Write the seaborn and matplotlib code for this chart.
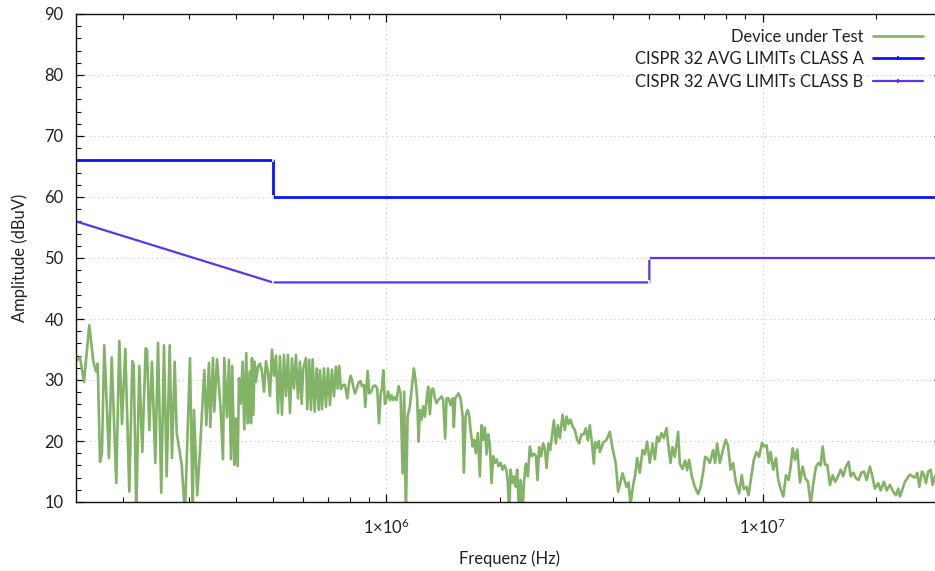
import numpy as np
import pandas as pd
import matplotlib
matplotlib.use("Agg")
import matplotlib.pyplot as plt
import seaborn as sns
from matplotlib.lines import Line2D
from matplotlib.ticker import FixedLocator, FixedFormatter, MultipleLocator, LogLocator, NullFormatter

# ---- data (frequency in kHz, amplitude in dBuV) ----
freq_khz = [
    150.0, 153.7, 157.5, 162.7, 166.7, 169.5, 171.3, 173.7, 175.8, 178.3,
    183.5, 186.6, 191.9, 195.5, 198.7, 202.8, 207.8, 211.7, 213.5, 216.9,
    220.9, 225.0, 229.7, 231.6, 234.8, 238.7, 243.6, 247.7, 252.7, 256.9,
    261.2, 266.0, 269.8, 274.3, 277.7, 286.3, 292.1, 301.2, 306.2, 308.6,
    314.9, 320.2, 328.7, 332.8, 338.3, 341.0, 346.7, 349.4, 355.3, 363.4,
    368.5, 371.5, 377.7, 382.3, 387.0, 390.1, 394.9, 398.3, 403.2, 406.4,
    410.7, 415.7, 419.8, 425.0, 428.6, 433.9, 437.4, 440.0, 443.6, 447.4,
    450.9, 456.5, 462.1, 467.8, 473.6, 479.4, 485.3, 491.2, 497.3, 503.4,
    509.6, 515.9, 522.2, 528.6, 535.2, 541.7, 548.4, 555.2, 562.0, 568.9,
    575.9, 583.0, 590.2, 596.3, 602.2, 612.2, 617.1, 624.7, 631.2, 637.8,
    645.7, 653.6, 661.7, 666.9, 675.2, 683.5, 691.9, 700.4, 709.0, 717.7,
    726.6, 735.5, 743.2, 750.5, 758.3, 769.1, 777.1, 788.1, 797.8, 804.7,
    811.1, 817.6, 826.1, 834.7, 845.0, 855.4, 862.2, 872.9, 879.8, 892.8,
    901.6, 912.7, 923.9, 935.3, 946.8, 956.7, 966.7, 974.4, 982.2, 992.5,
    1002.4, 1012.3, 1022.9, 1033.6, 1043.8, 1054.7, 1065.6, 1078.8, 1092.1, 1105.5,
    1116.4, 1128.0, 1139.8, 1156.0, 1170.2, 1184.6, 1197.0, 1208.7, 1219.1, 1228.8,
    1241.6, 1253.9, 1267.0, 1280.2, 1292.8, 1306.3, 1320.0, 1333.0, 1346.9, 1360.9,
    1374.3, 1388.7, 1403.2, 1417.0, 1434.4, 1446.7, 1464.5, 1482.6, 1500.8, 1512.8,
    1524.9, 1543.6, 1556.9, 1576.1, 1595.4, 1608.2, 1625.0, 1644.9, 1661.1, 1675.4,
    1696.0, 1712.7, 1730.5, 1751.8, 1773.4, 1791.9, 1809.5, 1828.5, 1847.5, 1865.7,
    1885.2, 1904.9, 1923.6, 1943.7, 1964.0, 1988.2, 2012.6, 2037.4, 2062.5, 2087.9,
    2104.6, 2121.4, 2139.6, 2165.6, 2187.3, 2210.0, 2227.7, 2255.2, 2274.6, 2302.5,
    2320.9, 2349.4, 2378.3, 2407.6, 2437.2, 2467.2, 2497.6, 2523.6, 2548.4, 2579.9,
    2611.6, 2638.9, 2666.4, 2699.2, 2725.8, 2759.3, 2788.2, 2822.4, 2857.1, 2892.3,
    2940.5, 2982.2, 3013.3, 3050.4, 3088.0, 3125.9, 3170.2, 3215.0, 3254.8, 3302.7,
    3349.5, 3390.7, 3432.4, 3474.6, 3517.4, 3560.8, 3589.0, 3626.5, 3671.2, 3693.7,
    3769.0, 3848.1, 3926.6, 3991.9, 4073.4, 4131.0, 4243.7, 4348.7, 4402.3, 4456.6,
    4528.0, 4583.7, 4639.9, 4717.2, 4795.6, 4863.7, 4932.5, 5014.6, 5098.1, 5170.4,
    5243.5, 5307.8, 5386.7, 5462.8, 5553.7, 5608.3, 5691.3, 5761.3, 5843.1, 5961.9,
    6024.3, 6124.5, 6222.8, 6299.2, 6376.8, 6482.9, 6602.9, 6737.4, 6836.9, 6946.6,
    7032.2, 7118.6, 7237.2, 7384.8, 7475.6, 7567.4, 7693.5, 7788.1, 7884.1, 7981.0,
    8094.0, 8213.9, 8345.4, 8484.7, 8657.1, 8801.3, 8909.7, 9057.8, 9169.3, 9339.0,
    9471.3, 9628.9, 9782.7, 9957.3, 10080, 10248, 10374, 10502, 10670, 10848,
    10981, 11164, 11342, 11532, 11723, 11868, 12013, 12183, 12357, 12562,
    12771, 12975, 13192, 13411, 13626, 13853, 14083, 14257, 14432, 14636,
    14844, 15091, 15342, 15587, 15850, 16112, 16370, 16643, 16919, 17128,
    17402, 17692, 17986, 18286, 18577, 18886, 19272, 19509, 19870, 20275,
    20574, 20994, 21345, 21779, 22222, 22597, 22913, 23152, 23394, 23870,
    24208, 24612, 25021, 25376, 25736, 26061, 26486, 26811, 27142, 27526,
    27940, 28276, 28676, 29198, 29920,
]
dut_dbuv = [
    33.1, 33.7, 29.7, 39.0, 33.1, 31.4, 32.7, 16.6, 18.0, 35.7,
    17.2, 33.7, 13.1, 36.4, 22.8, 35.1, 11.7, 33.1, 32.5, 8.0,
    32.3, 18.2, 35.2, 35.0, 21.8, 33.0, 16.4, 36.1, 11.5, 35.7,
    14.2, 35.7, 17.2, 33.0, 21.3, 16.1, 8.0, 33.6, 8.0, 25.1,
    11.1, 18.5, 31.6, 22.6, 32.8, 22.3, 33.6, 24.8, 33.4, 25.1,
    17.0, 33.6, 23.9, 33.3, 17.0, 32.3, 16.1, 23.7, 15.9, 30.3,
    26.1, 33.0, 21.9, 34.4, 22.9, 31.4, 22.9, 33.6, 24.3, 33.0,
    29.7, 32.2, 32.7, 31.4, 28.1, 33.1, 31.2, 27.4, 35.0, 30.7,
    34.0, 24.6, 33.9, 24.3, 34.1, 27.4, 34.1, 24.6, 33.5, 28.6,
    34.1, 27.0, 33.0, 26.1, 31.9, 33.6, 25.2, 33.3, 25.1, 33.4,
    24.8, 31.9, 25.1, 31.6, 25.2, 31.9, 25.6, 31.9, 25.9, 31.7,
    27.3, 32.2, 28.6, 32.3, 28.5, 29.2, 29.2, 27.0, 29.7, 30.7,
    30.0, 28.9, 27.8, 28.5, 29.6, 29.8, 29.0, 29.2, 25.6, 31.5,
    27.8, 28.1, 29.0, 29.1, 28.6, 22.9, 27.7, 28.6, 31.6, 26.1,
    27.0, 28.1, 26.7, 27.5, 26.7, 27.2, 26.7, 29.0, 27.8, 14.7,
    28.1, 8.0, 24.0, 25.7, 28.9, 31.9, 29.9, 27.0, 19.9, 25.1,
    23.5, 25.7, 24.0, 26.7, 28.9, 24.4, 28.4, 28.6, 27.0, 26.2,
    26.7, 27.0, 27.3, 26.7, 20.4, 27.0, 27.0, 25.9, 27.0, 22.3,
    27.0, 27.5, 27.8, 27.0, 24.2, 14.8, 24.0, 25.1, 24.2, 21.8,
    19.1, 20.2, 18.0, 21.3, 14.2, 22.6, 20.2, 22.2, 17.8, 21.1,
    19.3, 13.1, 17.5, 16.4, 17.0, 15.9, 16.4, 15.3, 16.0, 15.1,
    13.3, 8.0, 15.3, 13.1, 14.2, 12.5, 15.3, 8.0, 13.6, 8.0,
    13.1, 16.3, 14.2, 19.1, 17.5, 17.9, 17.6, 13.6, 19.0, 17.5,
    19.6, 18.8, 15.6, 19.6, 18.5, 21.0, 23.4, 19.6, 22.6, 20.5,
    24.3, 21.8, 24.0, 22.8, 23.5, 22.4, 21.8, 20.2, 19.6, 21.1,
    21.1, 22.1, 20.1, 22.6, 19.8, 16.3, 19.8, 18.9, 20.0, 18.2,
    19.7, 20.2, 21.5, 18.8, 16.3, 11.7, 14.7, 12.5, 13.2, 9.6,
    12.8, 14.4, 17.2, 14.8, 18.5, 17.8, 19.9, 16.4, 19.6, 17.0,
    20.7, 19.9, 21.3, 20.5, 22.1, 19.6, 16.4, 19.0, 17.4, 21.5,
    16.3, 15.4, 16.8, 15.2, 16.9, 14.2, 12.5, 11.3, 12.4, 14.8,
    17.4, 17.2, 16.4, 18.5, 16.4, 19.6, 16.4, 17.8, 19.1, 20.2,
    19.1, 15.3, 16.4, 13.3, 11.4, 14.4, 12.1, 12.5, 11.1, 14.4,
    16.9, 18.2, 17.4, 19.7, 19.1, 19.3, 16.4, 18.2, 15.3, 17.2,
    13.9, 12.1, 10.9, 14.4, 13.6, 15.8, 18.8, 16.9, 18.6, 13.2,
    15.8, 13.9, 13.3, 9.6, 13.0, 15.8, 16.4, 16.0, 19.1, 16.1,
    16.1, 12.8, 14.4, 13.3, 14.2, 15.3, 14.2, 15.8, 16.6, 14.2,
    14.8, 13.9, 13.6, 14.8, 15.0, 13.6, 15.8, 14.5, 12.2, 13.1,
    11.9, 13.3, 11.9, 12.8, 11.7, 11.1, 12.2, 10.9, 11.7, 13.3,
    13.9, 14.5, 14.2, 14.0, 14.8, 12.5, 15.0, 14.5, 13.1, 15.0,
    15.3, 12.8, 14.2, 14.8, 14.5,
]

class_a_freq_khz = [150, 500, 500, 30000]
class_a_dbuv = [66, 66, 60, 60]
class_b_freq_khz = [150, 500, 5000, 5000, 30000]
class_b_dbuv = [56, 46, 46, 50, 50]

series_labels = ["Device under Test",
                 "CISPR 32 AVG LIMITs CLASS A",
                 "CISPR 32 AVG LIMITs CLASS B"]
series_colors = ["#82b366", "#0a14f5", "#5b33f2"]
y_ticks = [10, 20, 30, 40, 50, 60, 70, 80, 90]
x_ticks_hz = [1e6, 1e7]
x_tick_labels = [r"$1{\times}10^{6}$", r"$1{\times}10^{7}$"]

# ---- styling ----
sns.set_theme(style="ticks")
plt.rcParams["font.family"] = ["Lato", "DejaVu Sans"]
plt.rcParams["mathtext.fontset"] = "custom"
plt.rcParams["mathtext.rm"] = "Lato"
plt.rcParams["mathtext.it"] = "Lato:italic"
plt.rcParams["mathtext.bf"] = "Lato:bold"

FS = 11.9
W, H = 935, 571
fig = plt.figure(figsize=(W / 100, H / 100), dpi=100)
ax = fig.add_axes([76 / W, 69 / H, (942.3 - 76) / W, 488 / H])

dut = pd.DataFrame({"f": np.array(freq_khz) * 1e3, "v": dut_dbuv})
ca = pd.DataFrame({"f": np.array(class_a_freq_khz) * 1e3, "v": class_a_dbuv})
cb = pd.DataFrame({"f": np.array(class_b_freq_khz) * 1e3, "v": class_b_dbuv})

line_widths = [1.9, 2.0, 1.6]
sns.lineplot(data=dut, x="f", y="v", sort=False, estimator=None, ax=ax,
             color=series_colors[0], lw=line_widths[0], legend=False)
sns.lineplot(data=ca, x="f", y="v", sort=False, estimator=None, ax=ax,
             color=series_colors[1], lw=line_widths[1], marker="|", markersize=3,
             markeredgewidth=1.2, legend=False)
sns.lineplot(data=cb, x="f", y="v", sort=False, estimator=None, ax=ax,
             color=series_colors[2], lw=line_widths[2], marker="|", markersize=3,
             markeredgewidth=1.2, legend=False)

ax.set_xscale("log")
ax.set_xlim(150e3, 30e6)
ax.set_ylim(10, 90)

ax.xaxis.set_major_locator(FixedLocator(x_ticks_hz))
ax.xaxis.set_major_formatter(FixedFormatter(x_tick_labels))
ax.xaxis.set_minor_locator(LogLocator(base=10, subs=np.arange(2, 10)))
ax.xaxis.set_minor_formatter(NullFormatter())
ax.yaxis.set_major_locator(FixedLocator(y_ticks))
ax.yaxis.set_minor_locator(MultipleLocator(2))

ax.tick_params(which="both", direction="in", top=True, right=True,
               colors="#111111", labelcolor="#222222", labelsize=FS)
ax.tick_params(which="major", length=6, width=0.9)
ax.tick_params(which="minor", length=3.5, width=0.8)
ax.tick_params(axis="y", pad=9)
ax.tick_params(axis="x", pad=11)

for s in ax.spines.values():
    s.set_color("#111111")
    s.set_linewidth(1.0)

ax.grid(True, which="major", linestyle=(0, (1, 3)), color="#c4c4c4", linewidth=0.8)

ax.set_xlabel("Frequenz (Hz)", fontsize=FS, color="#222222", labelpad=10)
ax.set_ylabel("Amplitude (dBuV)", fontsize=FS, color="#222222", labelpad=12)

handles = [
    Line2D([], [], color=series_colors[0], lw=line_widths[0]),
    Line2D([], [], color=series_colors[1], lw=line_widths[1], marker="|",
           markersize=3, markeredgewidth=1.2),
    Line2D([], [], color=series_colors[2], lw=line_widths[2], marker="|",
           markersize=3, markeredgewidth=1.2),
]
leg = ax.legend(handles, series_labels, loc="upper right",
                bbox_to_anchor=(923 / W, 1 - 29 / H),
                bbox_transform=fig.transFigure, frameon=False, markerfirst=False,
                fontsize=FS, handlelength=3.0, handletextpad=0.6, numpoints=1,
                labelspacing=0.38, borderpad=0, borderaxespad=0)
for t in leg.get_texts():
    t.set_color("#222222")

fig.savefig("out.png", dpi=100)
